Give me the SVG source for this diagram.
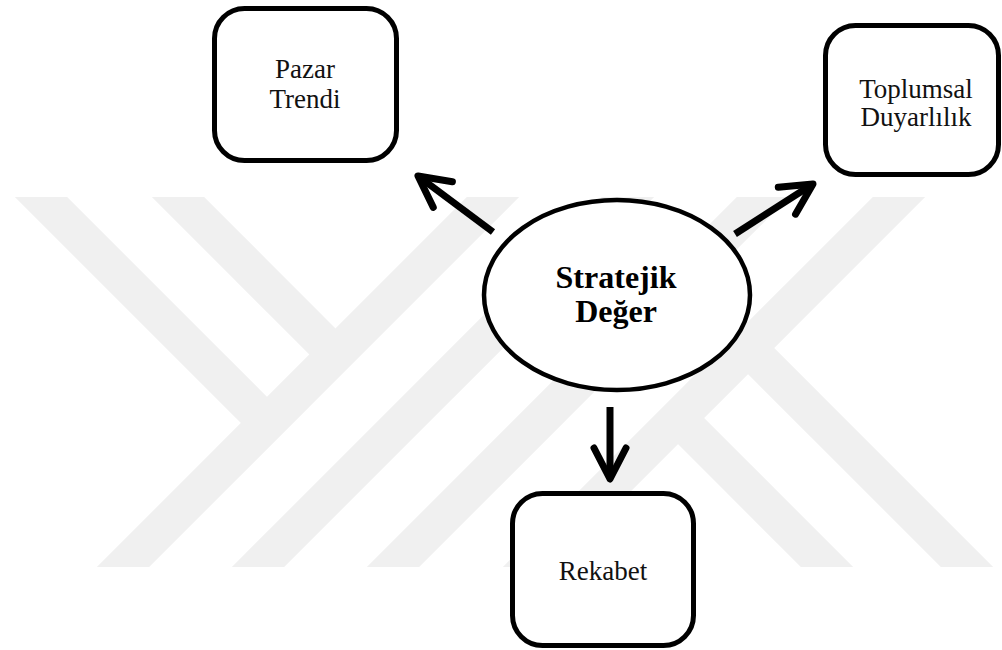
<svg xmlns="http://www.w3.org/2000/svg" width="1002" height="650" viewBox="0 0 1002 650">
  <style>
    .box { fill: #ffffff; stroke: #000000; stroke-width: 5; }
    .ell { fill: #ffffff; stroke: #000000; stroke-width: 4.5; }
    .lbl { font-family: "Liberation Serif", "Times New Roman", serif; font-size: 27px; fill: #111111; text-anchor: middle; }
    .bold { font-family: "Liberation Serif", "Times New Roman", serif; font-size: 32px; font-weight: bold; fill: #000000; text-anchor: middle; }
    .shaft { stroke: #000000; stroke-width: 7; fill: none; stroke-linecap: butt; marker-end: url(#chev); }
    .band { stroke: #f0f0f0; stroke-width: 37; fill: none; stroke-linecap: butt; }
  </style>
  <defs>
    <marker id="chev" markerUnits="userSpaceOnUse" viewBox="-40 -25 50 50" markerWidth="50" markerHeight="50" refX="0" refY="0" orient="auto" overflow="visible">
      <path d="M-31,-16 L0,0 L-31,16" fill="none" stroke="#000000" stroke-width="7" stroke-linecap="round" stroke-linejoin="round"/>
    </marker>
    <clipPath id="wmclip">
      <rect x="0" y="197" width="1002" height="370"/>
    </clipPath>
  </defs>
  <rect x="0" y="0" width="1002" height="650" fill="#ffffff"/>
  <g id="watermark" clip-path="url(#wmclip)">
    <line class="band" x1="-6" y1="150" x2="267" y2="423"/>
    <line class="band" x1="131" y1="150" x2="335.5" y2="354.5"/>
    <line class="band" x1="70" y1="620" x2="540" y2="150"/>
    <line class="band" x1="205" y1="620" x2="675" y2="150"/>
    <line class="band" x1="340" y1="620" x2="810" y2="150"/>
    <line class="band" x1="476" y1="620" x2="946" y2="150"/>
    <line class="band" x1="748" y1="348" x2="1100" y2="700"/>
    <line class="band" x1="678" y1="418" x2="960" y2="700"/>
  </g>
  <g id="connectors">
    <line class="shaft" x1="493" y1="232" x2="418" y2="176"/>
    <line class="shaft" x1="735" y1="234" x2="813" y2="184"/>
    <line class="shaft" x1="610" y1="407" x2="610" y2="479"/>
  </g>
  <g id="node-pazar">
    <rect class="box" x="214.5" y="8.5" width="182" height="152" rx="30" ry="30"/>
    <text class="lbl" x="305" y="78">Pazar</text>
    <text class="lbl" x="305" y="108">Trendi</text>
  </g>
  <g id="node-toplumsal">
    <rect class="box" x="825.5" y="25.5" width="173" height="149" rx="30" ry="30"/>
    <text class="lbl" x="916" y="98">Toplumsal</text>
    <text class="lbl" x="916" y="126">Duyarlılık</text>
  </g>
  <g id="node-stratejik">
    <ellipse class="ell" cx="617" cy="295" rx="133" ry="95"/>
    <text class="bold" x="616" y="288">Stratejik</text>
    <text class="bold" x="616" y="322">Değer</text>
  </g>
  <g id="node-rekabet">
    <rect class="box" x="512.5" y="493.5" width="181" height="152" rx="30" ry="30"/>
    <text class="lbl" x="603" y="580">Rekabet</text>
  </g>
</svg>
